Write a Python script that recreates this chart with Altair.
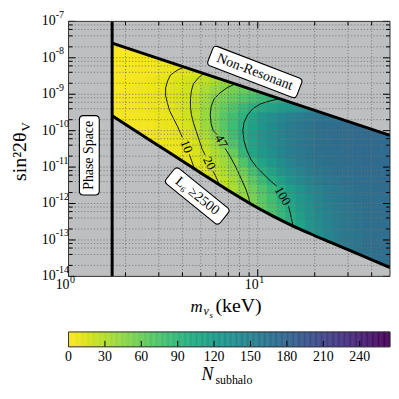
import altair as alt
import pandas as pd

# ---------------- data ----------------
# heat-map grid: sterile-neutrino mass column edges (keV) and mixing-angle row edges
mass_edges = [1.7, 1.9, 2.1, 2.35, 2.6, 2.9, 3.2, 3.6, 4.0, 4.5, 5.0, 5.6, 6.3,
              7.0, 7.9, 8.9, 10, 11.2, 12.6, 14.1, 15.8, 17.8, 20, 22.4, 25,
              28, 31.6, 35.5, 40, 45, 50]
sin2_row_edges = [3.16e-8, 1.78e-8, 1e-8, 5.62e-9, 3.16e-9, 1.78e-9, 1e-9,
                  5.62e-10, 3.16e-10, 1.78e-10, 1e-10, 5.62e-11, 3.16e-11,
                  1.78e-11, 1e-11, 5.62e-12, 3.16e-12, 1.78e-12, 1e-12,
                  5.62e-13, 3.16e-13, 1.78e-13, 1e-13, 5.62e-14, 3.16e-14,
                  1.78e-14, 1e-14]
# first row index of each mass column, and N_subhalo read down each column
n_first_row = [0, 0, 1, 1, 1, 1, 2, 2, 2, 3, 3, 3, 4, 4, 4, 5, 5, 6, 6, 6,
               7, 7, 7, 8, 8, 8, 9, 9, 9, 10]
n_subhalo_by_column = [
    [1, 1, 1, 1, 2, 2, 2, 2, 2],
    [2, 2, 2, 2, 3, 3, 3, 3, 3, 3],
    [2, 2, 3, 4, 4, 4, 4, 4, 3, 3],
    [3, 3, 3, 5, 6, 6, 5, 5, 4, 4],
    [4, 4, 4, 7, 7, 7, 7, 6, 5, 5, 4],
    [5, 5, 6, 9, 9, 9, 8, 7, 7, 6, 5, 5],
    [6, 8, 11, 12, 11, 10, 9, 9, 8, 7, 6],
    [7, 10, 14, 15, 15, 15, 14, 11, 10, 9, 8, 7],
    [8, 12, 17, 19, 19, 19, 18, 16, 14, 12, 10, 9, 8],
    [14, 20, 25, 27, 29, 28, 25, 20, 17, 15, 13, 10],
    [20, 26, 33, 37, 40, 41, 39, 33, 26, 21, 18, 15, 13],
    [22, 33, 41, 48, 52, 55, 54, 47, 38, 32, 27, 22, 18],
    [40, 49, 55, 63, 68, 69, 64, 53, 43, 38, 32, 27, 22],
    [47, 55, 62, 74, 81, 83, 81, 73, 61, 49, 42, 37, 33, 29],
    [55, 62, 70, 86, 95, 99, 100, 95, 88, 72, 58, 50, 45, 40],
    [68, 78, 97, 109, 114, 115, 112, 108, 95, 78, 67, 58, 53, 49],
    [72, 85, 105, 125, 128, 129, 126, 122, 111, 97, 84, 72, 68, 63, 58],
    [92, 112, 133, 138, 139, 137, 134, 125, 112, 101, 87, 82, 76, 73],
    [99, 119, 142, 148, 148, 146, 144, 136, 127, 115, 101, 96, 90, 87, 83],
    [105, 125, 150, 156, 156, 155, 153, 146, 137, 129, 116, 110, 104, 101, 97],
    [131, 154, 160, 160, 159, 158, 155, 147, 139, 130, 125, 119, 115, 112, 109],
    [137, 158, 164, 165, 164, 163, 159, 156, 149, 140, 136, 132, 130, 127, 124],
    [142, 162, 168, 168, 168, 167, 164, 160, 156, 149, 146, 142, 139, 137, 135, 133],
    [164, 170, 170, 169, 169, 168, 164, 160, 156, 155, 151, 149, 147, 145, 143],
    [166, 171, 171, 171, 170, 169, 168, 164, 160, 159, 157, 156, 155, 154, 152],
    [168, 172, 172, 172, 172, 171, 169, 168, 165, 163, 161, 160, 160, 159, 158, 157],
    [173, 173, 173, 173, 172, 171, 170, 168, 168, 166, 164, 164, 163, 162, 162],
    [173, 173, 173, 173, 173, 172, 171, 170, 169, 168, 168, 168, 167, 167, 166, 165],
    [173, 173, 173, 173, 173, 173, 172, 171, 170, 170, 169, 169, 169, 169, 168, 168],
    [173, 173, 173, 173, 173, 173, 173, 171, 171, 171, 171, 170, 170, 170, 169, 169],
]

# region boundaries
phase_space_mass = 1.7
nonres_mass = [1.7, 50]
nonres_sin2 = [2.52e-8, 7.4e-11]
l6_mass = [1.7, 2.92, 5.03, 7.22, 9.19, 11.7, 14.89, 18.95, 24.1, 34.6, 50]
l6_sin2 = [2.58e-10, 4.19e-11, 6.8e-12, 2.06e-12, 9.72e-13, 4.88e-13, 2.60e-13,
           1.48e-13, 8.69e-14, 3.97e-14, 1.75e-14]

# contour lines (each split where its label sits)
c10a_m = [4.20, 3.77, 3.46, 3.34, 3.26, 3.26, 3.34, 3.42, 3.59, 3.77, 3.91, 4.00]
c10a_s = [5.94e-9, 4.63e-9, 3.38e-9, 2.32e-9, 1.50e-9, 9.06e-10, 5.48e-10,
          3.54e-10, 2.14e-10, 1.30e-10, 8.35e-11, 6.50e-11]
c10b_m = [4.35, 4.46, 4.62, 4.68]
c10b_s = [2.24e-11, 1.54e-11, 9.30e-12, 7.70e-12]
c20a_m = [5.28, 4.85, 4.57, 4.46, 4.41, 4.41, 4.46, 4.57, 4.74, 4.91, 5.09, 5.28]
c20a_s = [4.08e-9, 2.80e-9, 1.92e-9, 1.24e-9, 7.50e-10, 4.54e-10, 2.75e-10,
          1.66e-10, 9.47e-11, 5.38e-11, 3.06e-11, 2.10e-11]
c20b_m = [5.81, 6.03, 6.25, 6.32]
c20b_s = [7.70e-12, 5.28e-12, 3.41e-12, 2.82e-12]
c47a_m = [7.77, 6.88, 6.32, 5.88, 5.67, 5.61, 5.67, 5.81, 6.10]
c47a_s = [2.05e-9, 1.50e-9, 1.09e-9, 7.50e-10, 4.54e-10, 2.75e-10, 1.56e-10,
          1.01e-10, 7.84e-11]
c47b_m = [6.72, 7.14, 7.67, 8.15, 8.65, 8.97, 9.19]
c47b_s = [3.26e-11, 1.97e-11, 9.90e-12, 4.97e-12, 2.49e-12, 1.42e-12, 8.57e-13]
c100a_m = [13.68, 11.70, 10.37, 9.42, 8.86, 8.45, 8.35, 8.45, 8.76, 9.19, 9.88,
           10.75, 11.70, 12.58]
c100a_s = [7.99e-10, 6.62e-10, 5.48e-10, 4.01e-10, 2.75e-10, 1.66e-10, 1.01e-10,
           5.38e-11, 2.88e-11, 1.64e-11, 9.90e-12, 6.38e-12, 4.11e-12, 3.01e-12]
c100b_m = [14.53, 14.89, 15.25, 15.44, 15.62]
c100b_s = [8.57e-13, 5.19e-13, 2.95e-13, 1.79e-13, 1.39e-13]

contour_labels = ["10", "20", "47", "100"]
contour_label_mass = [4.20, 5.54, 6.40, 13.52]
contour_label_sin2 = [3.69e-11, 1.27e-11, 5.06e-11, 1.61e-12]
contour_label_angle = [68, 64, 60, 60]

box_texts = ["Non-Resonant", "L\u2086 \u22652500", "Phase Space"]
box_mass = [9.65, 4.79, 1.288]
box_sin2 = [4.08e-9, 1.61e-12, 2.10e-11]
box_angle = [21, 39, 270]

x_major = [1, 10]
x_major_exp = ["0", "1"]
x_minor = [2, 3, 4, 5, 6, 7, 8, 9, 20, 30, 40]
y_major = [1e-14, 1e-13, 1e-12, 1e-11, 1e-10, 1e-9, 1e-8, 1e-7]
y_major_exp = ["-14", "-13", "-12", "-11", "-10", "-9", "-8", "-7"]
y_minor = [d * 10.0 ** e for e in range(-14, -7) for d in (2, 4, 6, 8)]

cbar_ticks = [0, 30, 60, 90, 120, 150, 180, 210, 240]
N_MAX = 265

# ---------------- styling ----------------
W, H = 324, 257
CBH = 15
GRAY = "#bdbfc0"
GRIDC = "#6f6f6f"
SERIF = "Liberation Serif"

xs = alt.Scale(type="log", domain=[1, 50], nice=False)
ys = alt.Scale(type="log", domain=[1e-14, 1e-7], nice=False)
cs = alt.Scale(scheme="viridis", reverse=True, domain=[0, N_MAX])


def X(f):
    return alt.X(f, type="quantitative", scale=xs, axis=None)


def Y(f):
    return alt.Y(f, type="quantitative", scale=ys, axis=None, stack=None)


one = pd.DataFrame({"a": [0]})

# heat-map cells
cells = []
for c, (start, vals) in enumerate(zip(n_first_row, n_subhalo_by_column)):
    for i, v in enumerate(vals):
        k = start + i
        cells.append(dict(m0=mass_edges[c], m1=mass_edges[c + 1],
                          s0=sin2_row_edges[k], s1=sin2_row_edges[k + 1], N=v))
cells = pd.DataFrame(cells)

contours = []
for name, ms, ss in [("10a", c10a_m, c10a_s), ("10b", c10b_m, c10b_s),
                     ("20a", c20a_m, c20a_s), ("20b", c20b_m, c20b_s),
                     ("47a", c47a_m, c47a_s), ("47b", c47b_m, c47b_s),
                     ("100a", c100a_m, c100a_s), ("100b", c100b_m, c100b_s)]:
    for i, (m, s) in enumerate(zip(ms, ss)):
        contours.append(dict(seg=name, i=i, m=m, s=s))
contours = pd.DataFrame(contours)

upper_df = pd.DataFrame({"m": nonres_mass, "s": nonres_sin2})
lower_df = pd.DataFrame({"m": l6_mass, "s": l6_sin2})

bg = alt.Chart(one).mark_rect(color=GRAY).encode(
    x=alt.value(0), x2=alt.value(W), y=alt.value(0), y2=alt.value(H))

heat = alt.Chart(cells).mark_rect(clip=True, strokeWidth=0.6).encode(
    x=X("m0"), x2="m1", y=Y("s0"), y2="s1",
    color=alt.Color("N:Q", scale=cs, legend=None),
    stroke=alt.Stroke("N:Q", scale=cs, legend=None))

cont = alt.Chart(contours).mark_line(color="black", strokeWidth=0.9, clip=True).encode(
    x=X("m"), y=Y("s"), detail="seg:N", order="i:Q")

umask = alt.Chart(upper_df).mark_area(color=GRAY, clip=True, opacity=1).encode(
    x=X("m"), y=Y("s"), y2=alt.value(0))
lmask = alt.Chart(lower_df).mark_area(color=GRAY, clip=True, opacity=1,
                                      interpolate="monotone").encode(
    x=X("m"), y=Y("s"), y2=alt.value(H))

grid_x = alt.Chart(pd.DataFrame({"m": x_minor + [10]})).mark_rule(
    color=GRIDC, strokeDash=[1.2, 2], strokeWidth=0.8).encode(
    x=X("m"), y=alt.value(0), y2=alt.value(H))
grid_y = alt.Chart(pd.DataFrame({"s": y_minor + y_major[1:-1]})).mark_rule(
    color=GRIDC, strokeDash=[1.2, 2], strokeWidth=0.8).encode(
    y=Y("s"), x=alt.value(0), x2=alt.value(W))

uline = alt.Chart(upper_df).mark_line(color="black", strokeWidth=3, clip=True).encode(
    x=X("m"), y=Y("s"))
lline = alt.Chart(lower_df).mark_line(color="black", strokeWidth=3, clip=True,
                                      interpolate="monotone").encode(x=X("m"), y=Y("s"))
vline = alt.Chart(pd.DataFrame({"m": [phase_space_mass]})).mark_rule(
    color="black", strokeWidth=3).encode(x=X("m"), y=alt.value(0), y2=alt.value(H))

clab_df = pd.DataFrame({"t": contour_labels, "m": contour_label_mass,
                        "s": contour_label_sin2, "rot": contour_label_angle})
clab = alt.Chart(clab_df).mark_text(font=SERIF, fontSize=13, color="black",
                                    baseline="middle", align="center").encode(
    x=X("m"), y=Y("s"), text="t:N", angle=alt.Angle("rot:Q", scale=None))


def box_path(w, h, r):
    L = max(w, h) / 2.0
    a, b, c = w / 2.0 / L, h / 2.0 / L, r / L
    p = (f"M{-a + c},{-b} L{a - c},{-b} Q{a},{-b} {a},{-b + c} L{a},{b - c} "
         f"Q{a},{b} {a - c},{b} L{-a + c},{b} Q{-a},{b} {-a},{b - c} "
         f"L{-a},{-b + c} Q{-a},{-b} {-a + c},{-b} Z")
    return p, (2 * L) ** 2


box_dims = [(96, 21, 4), (70, 20, 4), (20, 80, 4)]
boxes = []
for i, (w, h, r) in enumerate(box_dims):
    p, size = box_path(w, h, r)
    ang = box_angle[i] if box_angle[i] != 270 else 0
    boxes.append(alt.Chart(pd.DataFrame({"m": [box_mass[i]], "s": [box_sin2[i]]})).mark_point(
        shape=p, size=size, angle=ang, filled=True, fill="white", opacity=1,
        stroke="black", strokeWidth=1.1).encode(x=X("m"), y=Y("s")))

box_df = pd.DataFrame({"t": box_texts, "m": box_mass, "s": box_sin2, "rot": box_angle})
box_txt = alt.Chart(box_df).mark_text(font=SERIF, fontSize=14, color="black",
                                      baseline="middle", align="center").encode(
    x=X("m"), y=Y("s"), text="t:N", angle=alt.Angle("rot:Q", scale=None))

# inward ticks on all four sides
ymaj = pd.DataFrame({"s": y_major, "e": y_major_exp})
ymin = pd.DataFrame({"s": y_minor})
xmaj = pd.DataFrame({"m": x_major, "e": x_major_exp})
xmin = pd.DataFrame({"m": x_minor})
tk = dict(color="black", strokeWidth=1)
ticks = [
    alt.Chart(ymaj).mark_rule(**tk).encode(y=Y("s"), x=alt.value(0), x2=alt.value(7)),
    alt.Chart(ymin).mark_rule(**tk).encode(y=Y("s"), x=alt.value(0), x2=alt.value(4)),
    alt.Chart(ymaj).mark_rule(**tk).encode(y=Y("s"), x=alt.value(W), x2=alt.value(W - 7)),
    alt.Chart(ymin).mark_rule(**tk).encode(y=Y("s"), x=alt.value(W), x2=alt.value(W - 4)),
    alt.Chart(xmaj).mark_rule(**tk).encode(x=X("m"), y=alt.value(H), y2=alt.value(H - 7)),
    alt.Chart(xmin).mark_rule(**tk).encode(x=X("m"), y=alt.value(H), y2=alt.value(H - 4)),
    alt.Chart(xmaj).mark_rule(**tk).encode(x=X("m"), y=alt.value(0), y2=alt.value(7)),
    alt.Chart(xmin).mark_rule(**tk).encode(x=X("m"), y=alt.value(0), y2=alt.value(4)),
]
frame = alt.Chart(one).mark_rect(fillOpacity=0, stroke="#333333", strokeWidth=1).encode(
    x=alt.value(0), x2=alt.value(W), y=alt.value(0), y2=alt.value(H))

# tick labels 10^n
ylab10 = alt.Chart(ymaj).mark_text(font=SERIF, fontSize=14, text="10", align="right",
                                   baseline="middle", color="black").encode(
    y=Y("s"), x=alt.value(-13))
ylabexp = alt.Chart(ymaj).mark_text(font=SERIF, fontSize=10, align="left",
                                    baseline="alphabetic", dy=-3.5, color="black").encode(
    y=Y("s"), x=alt.value(-13), text="e:N")
xlab10 = alt.Chart(xmaj).mark_text(font=SERIF, fontSize=14, text="10", align="right",
                                   baseline="alphabetic", dx=1, color="black").encode(
    x=X("m"), y=alt.value(H + 13))
xlabexp = alt.Chart(xmaj).mark_text(font=SERIF, fontSize=10, align="left",
                                    baseline="alphabetic", dx=1.5, color="black").encode(
    x=X("m"), y=alt.value(H + 7), text="e:N")


def label(text, x, y, size, style="normal", angle=0, align="left"):
    return alt.Chart(one).mark_text(text=text, font=SERIF, fontSize=size, fontStyle=style,
                                    angle=angle, align=align, baseline="alphabetic",
                                    color="black").encode(x=alt.value(x), y=alt.value(y))


titles = [
    label("m", 123, H + 36, 17, "italic"),
    label("\u03bd", 136, H + 39, 12, "italic"),
    label("s", 142, H + 42, 9, "italic"),
    label("(keV)", 148, H + 36, 20),
    label("sin\u00b22\u03b8", -43, 112, 20, angle=270, align="right"),
    label("V", -39, 111, 13, angle=270, align="left"),
]

main = alt.layer(bg, heat, cont, umask, lmask, grid_x, grid_y, uline, lline, vline,
                 clab, *boxes, box_txt, *ticks, frame, ylab10, ylabexp, xlab10, xlabexp,
                 *titles).properties(width=W, height=H)

# ---------------- colour bar ----------------
cbs = alt.Scale(domain=[0, N_MAX], nice=False, zero=False)
grad_df = pd.DataFrame({"v": list(range(0, N_MAX))})
grad_df["v1"] = grad_df["v"] + 1
grad_df["c"] = grad_df["v"] + 0.5
grad = alt.Chart(grad_df).mark_rect(strokeWidth=0.5).encode(
    x=alt.X("v:Q", scale=cbs, axis=None), x2="v1", y=alt.value(0), y2=alt.value(CBH),
    color=alt.Color("c:Q", scale=cs, legend=None),
    stroke=alt.Stroke("c:Q", scale=cs, legend=None))
cb_df = pd.DataFrame({"v": cbar_ticks, "t": [str(v) for v in cbar_ticks]})
cb_ticks = alt.Chart(cb_df).mark_rule(color="black", strokeWidth=1).encode(
    x=alt.X("v:Q", scale=cbs, axis=None), y=alt.value(CBH), y2=alt.value(CBH - 6))
cb_labels = alt.Chart(cb_df).mark_text(font=SERIF, fontSize=14, baseline="top",
                                       align="center", color="black").encode(
    x=alt.X("v:Q", scale=cbs, axis=None), y=alt.value(CBH + 3), text="t:N")
cb_frame = alt.Chart(one).mark_rect(fillOpacity=0, stroke="#333333", strokeWidth=1).encode(
    x=alt.value(0), x2=alt.value(W), y=alt.value(0), y2=alt.value(CBH))
cb_title = [label("N", 134, 48, 18, "italic"), label("subhalo", 148, 52, 12)]

cbar = alt.layer(grad, cb_ticks, cb_frame, cb_labels, *cb_title).properties(width=W, height=CBH)

chart = alt.vconcat(main, cbar, spacing=56, bounds="flush",
                    padding={"left": 2, "top": 0, "right": 0, "bottom": 0}).resolve_scale(
    x="independent", y="independent", color="independent", stroke="independent"
).configure_view(strokeWidth=0)

chart.save("out.html", embed_options={"renderer": "svg", "actions": False})
